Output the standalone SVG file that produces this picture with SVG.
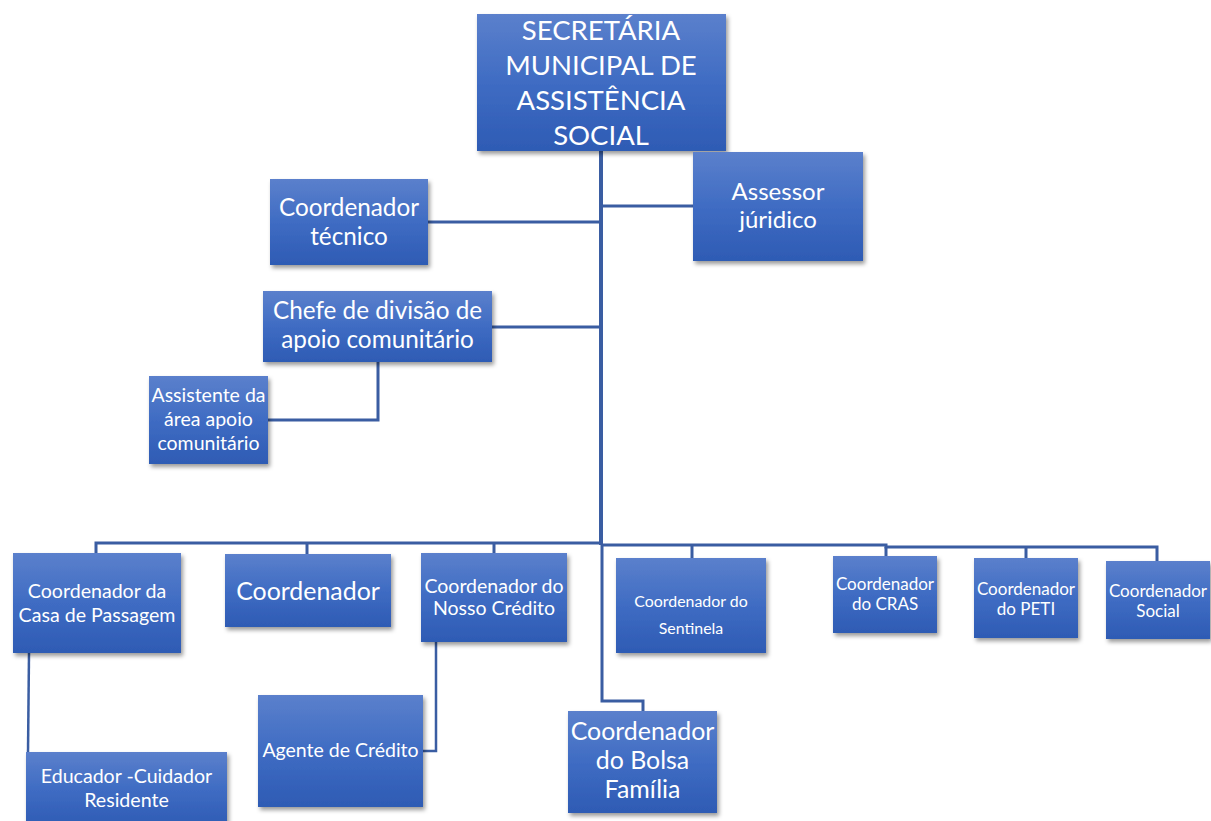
<svg xmlns="http://www.w3.org/2000/svg" width="1211" height="821" viewBox="0 0 1211 821">
<defs>
<linearGradient id="g" x1="0" y1="0" x2="0" y2="1">
<stop offset="0" stop-color="#5B80CC"/>
<stop offset="0.5" stop-color="#3F6CC3"/>
<stop offset="1" stop-color="#2E5BB4"/>
</linearGradient>
<filter id="sh" x="-10%" y="-10%" width="125%" height="130%">
<feDropShadow dx="2" dy="3" stdDeviation="2" flood-color="#000" flood-opacity="0.4"/>
</filter>
</defs>
<style>
.box{fill:url(#g);filter:url(#sh)}
text{font-family:Lato,"Open Sans","Liberation Sans",sans-serif;fill:#fff;text-anchor:middle}
.c{fill:none;stroke:#3A5DA2;stroke-width:3}
</style>
<rect width="1211" height="821" fill="#fff"/>
<g id="connectors">
<path class="c" style="stroke-width:4" d="M601 151 V545"/>
<path class="c" d="M601 206 H693"/>
<path class="c" d="M428 222 H601"/>
<path class="c" d="M492 327 H601"/>
<path class="c" d="M378 362 V420 H268"/>
<path class="c" d="M96 553 V543 H601"/>
<path class="c" d="M307 554 V543"/>
<path class="c" d="M494 553 V543"/>
<path class="c" d="M601 545 H886 V547 H1157 V561"/>
<path class="c" d="M692 558 V545"/>
<path class="c" d="M886 556 V547"/>
<path class="c" d="M1026 558 V547"/>
<path class="c" d="M602 545 V701 H643 V711"/>
<path class="c" style="stroke-width:2.5" d="M29 653 L28 752"/>
<path class="c" style="stroke-width:2.5" d="M436 642 V751 H423"/>
</g>
<g id="secretaria">
<rect class="box" x="477" y="14" width="249" height="137"/>
<text font-size="27.5"><tspan x="601" y="40">SECRETÁRIA</tspan><tspan x="601" y="75">MUNICIPAL DE</tspan><tspan x="601" y="110">ASSISTÊNCIA</tspan><tspan x="601" y="145">SOCIAL</tspan></text>
</g>
<g id="assessor">
<rect class="box" x="693" y="152" width="170" height="109"/>
<text font-size="24"><tspan x="778" y="200">Assessor</tspan><tspan x="778" y="228">júridico</tspan></text>
</g>
<g id="coord-tecnico">
<rect class="box" x="270" y="179" width="158" height="86"/>
<text font-size="24.3"><tspan x="349" y="216">Coordenador</tspan><tspan x="349" y="245">técnico</tspan></text>
</g>
<g id="chefe">
<rect class="box" x="263" y="291" width="229" height="71"/>
<text font-size="24.3"><tspan x="377.5" y="319">Chefe de divisão de</tspan><tspan x="377.5" y="348">apoio comunitário</tspan></text>
</g>
<g id="assistente">
<rect class="box" x="149" y="376" width="119" height="88"/>
<text font-size="19.5"><tspan x="208.5" y="402">Assistente da</tspan><tspan x="208.5" y="426">área apoio</tspan><tspan x="208.5" y="450">comunitário</tspan></text>
</g>
<g id="casa-passagem">
<rect class="box" x="13" y="553" width="168" height="100"/>
<text font-size="19.6"><tspan x="97" y="598">Coordenador da</tspan><tspan x="97" y="622">Casa de Passagem</tspan></text>
</g>
<g id="coordenador">
<rect class="box" x="225" y="554" width="166" height="73"/>
<text font-size="24.9"><tspan x="308" y="600">Coordenador</tspan></text>
</g>
<g id="nosso-credito">
<rect class="box" x="421" y="553" width="146" height="89"/>
<text font-size="19.5"><tspan x="494" y="593">Coordenador do</tspan><tspan x="494" y="615">Nosso Crédito</tspan></text>
</g>
<g id="sentinela">
<rect class="box" x="616" y="558" width="150" height="95"/>
<text font-size="15.9"><tspan x="691" y="607">Coordenador do</tspan><tspan x="691" y="634">Sentinela</tspan></text>
</g>
<g id="cras">
<rect class="box" x="833" y="556" width="104" height="77"/>
<text font-size="17"><tspan x="885" y="590">Coordenador</tspan><tspan x="885" y="610">do CRAS</tspan></text>
</g>
<g id="peti">
<rect class="box" x="974" y="558" width="104" height="80"/>
<text font-size="17"><tspan x="1026" y="595">Coordenador</tspan><tspan x="1026" y="615">do PETI</tspan></text>
</g>
<g id="social">
<rect class="box" x="1106" y="561" width="104" height="78"/>
<text font-size="17"><tspan x="1158" y="597">Coordenador</tspan><tspan x="1158" y="617">Social</tspan></text>
</g>
<g id="agente-credito">
<rect class="box" x="258" y="695" width="165" height="112"/>
<text font-size="19.5"><tspan x="340.5" y="757">Agente de Crédito</tspan></text>
</g>
<g id="educador">
<rect class="box" x="26" y="752" width="201" height="75"/>
<text font-size="19.6"><tspan x="126.5" y="783">Educador -Cuidador</tspan><tspan x="126.5" y="807">Residente</tspan></text>
</g>
<g id="bolsa-familia">
<rect class="box" x="568" y="711" width="149" height="102"/>
<text font-size="24.9"><tspan x="642.5" y="740">Coordenador</tspan><tspan x="642.5" y="769">do Bolsa</tspan><tspan x="642.5" y="798">Família</tspan></text>
</g>
</svg>
